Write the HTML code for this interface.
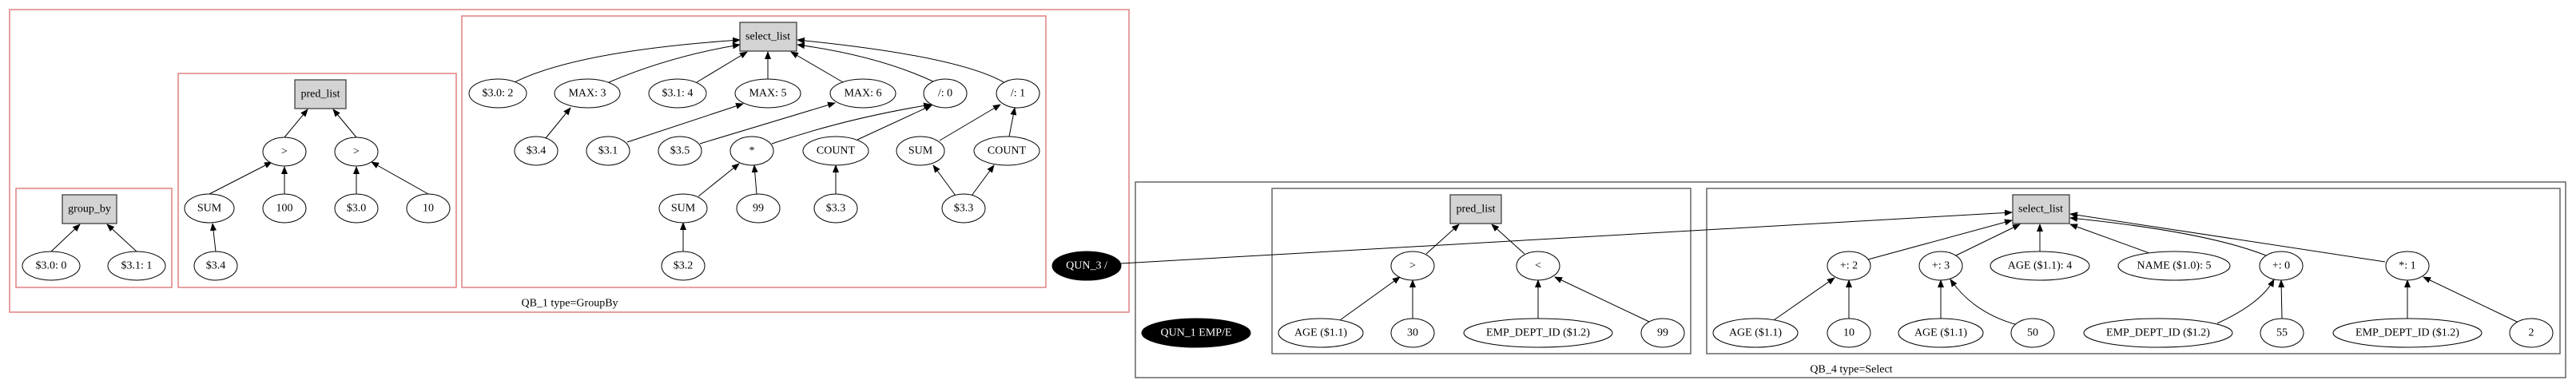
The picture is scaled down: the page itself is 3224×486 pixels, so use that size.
<!DOCTYPE html>
<html><head><meta charset="utf-8"><style>
html,body{margin:0;padding:0;background:#fff;}
svg{display:block;}
text{font-family:"Liberation Serif",serif;font-size:14px;text-anchor:middle;dominant-baseline:central;fill:#000;}
.e{fill:#fff;stroke:#000;stroke-width:1;}
.b{fill:#d3d3d3;stroke:#333;stroke-width:1.2;}
.k{fill:#000;stroke:#000;}
.r{fill:none;stroke:#e08080;stroke-width:1.5;}
.g{fill:none;stroke:#666;stroke-width:1.5;}
.l{fill:none;stroke:#000;stroke-width:1;marker-end:url(#a);}
</style></head><body>
<svg width="3224" height="486" viewBox="0 0 3224 486" xmlns="http://www.w3.org/2000/svg">
<defs><marker id="a" markerWidth="10" markerHeight="8" refX="9" refY="4" orient="auto" markerUnits="userSpaceOnUse"><path d="M0,0 L10,4 L0,8 z" fill="#000"/></marker></defs>
<!-- clusters -->
<rect class="r" x="12" y="12" width="1401" height="379"/>
<rect class="r" x="20" y="236" width="195" height="124"/>
<rect class="r" x="223" y="92" width="348" height="268"/>
<rect class="r" x="578" y="20" width="731" height="340"/>
<text x="713" y="380">QB_1 type=GroupBy</text>
<rect class="g" x="1421" y="228" width="1790" height="245"/>
<rect class="g" x="1592" y="236" width="524" height="207"/>
<rect class="g" x="2136" y="236" width="1068" height="207"/>
<text x="2317" y="463">QB_4 type=Select</text>

<!-- edges -->
<g>
<line class="l" x1="64" y1="315" x2="100" y2="281"/>
<line class="l" x1="171" y1="315" x2="134" y2="281"/>
<line class="l" x1="356" y1="172" x2="385" y2="137"/>
<line class="l" x1="446" y1="172" x2="417" y2="137"/>
<line class="l" x1="262" y1="243" x2="340" y2="203"/>
<line class="l" x1="356" y1="243" x2="356" y2="209"/>
<line class="l" x1="446" y1="243" x2="446" y2="209"/>
<line class="l" x1="536" y1="243" x2="465" y2="203"/>
<line class="l" x1="270" y1="315" x2="266" y2="280"/>
<path class="l" d="M642,104 Q720,64 926,50"/>
<path class="l" d="M762,103 Q840,70 926,56"/>
<line class="l" x1="872" y1="103" x2="935" y2="65"/>
<line class="l" x1="961" y1="99" x2="961" y2="65"/>
<line class="l" x1="1055" y1="103" x2="990" y2="65"/>
<path class="l" d="M1170,103 Q1100,70 998,56"/>
<path class="l" d="M1258,104 Q1200,70 998,50"/>
<line class="l" x1="683" y1="173" x2="714" y2="135"/>
<line class="l" x1="785" y1="178" x2="930" y2="130"/>
<line class="l" x1="876" y1="180" x2="1045" y2="129"/>
<path class="l" d="M966,180 Q1060,148 1165,131"/>
<line class="l" x1="1073" y1="175" x2="1166" y2="132"/>
<line class="l" x1="1176" y1="176" x2="1252" y2="131"/>
<line class="l" x1="1263" y1="171" x2="1270" y2="135"/>
<line class="l" x1="874" y1="246" x2="925" y2="205"/>
<line class="l" x1="947" y1="243" x2="944" y2="207"/>
<line class="l" x1="1046" y1="243" x2="1046" y2="207"/>
<line class="l" x1="1196" y1="245" x2="1168" y2="207"/>
<line class="l" x1="1216" y1="245" x2="1244" y2="207"/>
<line class="l" x1="855" y1="315" x2="855" y2="279"/>

<line class="l" x1="1785" y1="318" x2="1826" y2="281"/>
<line class="l" x1="1908" y1="318" x2="1867" y2="281"/>
<line class="l" x1="1677" y1="401" x2="1752" y2="347"/>
<line class="l" x1="1768" y1="399" x2="1768" y2="351"/>
<line class="l" x1="1925" y1="399" x2="1925" y2="351"/>
<line class="l" x1="2064" y1="403" x2="1946" y2="347"/>
<line class="l" x1="1403" y1="330" x2="2518" y2="266"/>
<line class="l" x1="2338" y1="325" x2="2518" y2="276"/>
<line class="l" x1="2448" y1="320" x2="2528" y2="281"/>
<line class="l" x1="2553" y1="315" x2="2553" y2="281"/>
<line class="l" x1="2690" y1="317" x2="2591" y2="281"/>
<path class="l" d="M2836,320 Q2760,290 2591,273"/>
<line class="l" x1="2985" y1="328" x2="2591" y2="268"/>
<line class="l" x1="2220" y1="401" x2="2296" y2="348"/>
<line class="l" x1="2314" y1="399" x2="2314" y2="351"/>
<line class="l" x1="2429" y1="399" x2="2429" y2="351"/>
<path class="l" d="M2525,407 Q2470,392 2441,350"/>
<path class="l" d="M2775,405 Q2830,380 2846,350"/>
<line class="l" x1="2856" y1="399" x2="2855" y2="351"/>
<line class="l" x1="3013" y1="399" x2="3013" y2="351"/>
<line class="l" x1="3152" y1="404" x2="3033" y2="347"/>
</g>

<!-- nodes QB_1 -->
<rect class="b" x="78" y="244" width="68" height="36"/><text x="112" y="262">group_by</text>
<ellipse class="e" cx="64" cy="333" rx="36" ry="18"/><text x="64" y="333">$3.0: 0</text>
<ellipse class="e" cx="171" cy="333" rx="36" ry="18"/><text x="171" y="333">$3.1: 1</text>

<rect class="b" x="369" y="100" width="64" height="36"/><text x="401" y="118">pred_list</text>
<ellipse class="e" cx="356" cy="190" rx="27" ry="18"/><text x="356" y="190">&gt;</text>
<ellipse class="e" cx="446" cy="190" rx="27" ry="18"/><text x="446" y="190">&gt;</text>
<ellipse class="e" cx="262" cy="261" rx="31" ry="18"/><text x="262" y="261">SUM</text>
<ellipse class="e" cx="356" cy="261" rx="27" ry="18"/><text x="356" y="261">100</text>
<ellipse class="e" cx="446" cy="261" rx="27" ry="18"/><text x="446" y="261">$3.0</text>
<ellipse class="e" cx="536" cy="261" rx="27" ry="18"/><text x="536" y="261">10</text>
<ellipse class="e" cx="270" cy="333" rx="27" ry="18"/><text x="270" y="333">$3.4</text>

<rect class="b" x="926" y="28" width="71" height="36"/><text x="961" y="46">select_list</text>
<ellipse class="e" cx="623" cy="117" rx="36" ry="18"/><text x="623" y="117">$3.0: 2</text>
<ellipse class="e" cx="735" cy="117" rx="41" ry="18"/><text x="735" y="117">MAX: 3</text>
<ellipse class="e" cx="848" cy="117" rx="36" ry="18"/><text x="848" y="117">$3.1: 4</text>
<ellipse class="e" cx="961" cy="117" rx="41" ry="18"/><text x="961" y="117">MAX: 5</text>
<ellipse class="e" cx="1080" cy="117" rx="41" ry="18"/><text x="1080" y="117">MAX: 6</text>
<ellipse class="e" cx="1183" cy="117" rx="27" ry="18"/><text x="1183" y="117">/: 0</text>
<ellipse class="e" cx="1274" cy="117" rx="27" ry="18"/><text x="1274" y="117">/: 1</text>
<ellipse class="e" cx="671" cy="189" rx="27" ry="18"/><text x="671" y="189">$3.4</text>
<ellipse class="e" cx="761" cy="189" rx="27" ry="18"/><text x="761" y="189">$3.1</text>
<ellipse class="e" cx="851" cy="189" rx="27" ry="18"/><text x="851" y="189">$3.5</text>
<ellipse class="e" cx="941" cy="189" rx="27" ry="18"/><text x="941" y="189">*</text>
<ellipse class="e" cx="1046" cy="189" rx="41" ry="18"/><text x="1046" y="189">COUNT</text>
<ellipse class="e" cx="1152" cy="189" rx="30" ry="18"/><text x="1152" y="189">SUM</text>
<ellipse class="e" cx="1260" cy="189" rx="41" ry="18"/><text x="1260" y="189">COUNT</text>
<ellipse class="e" cx="855" cy="261" rx="30" ry="18"/><text x="855" y="261">SUM</text>
<ellipse class="e" cx="949" cy="261" rx="27" ry="18"/><text x="949" y="261">99</text>
<ellipse class="e" cx="1046" cy="261" rx="27" ry="18"/><text x="1046" y="261">$3.3</text>
<ellipse class="e" cx="1206" cy="261" rx="27" ry="18"/><text x="1206" y="261">$3.3</text>
<ellipse class="e" cx="855" cy="333" rx="27" ry="18"/><text x="855" y="333">$3.2</text>

<!-- QB_4 -->
<ellipse class="k" cx="1360" cy="333" rx="43" ry="18"/><text x="1360" y="333" style="fill:#fff">QUN_3 /</text>
<ellipse class="k" cx="1497" cy="417" rx="68" ry="18"/><text x="1497" y="417" style="fill:#fff">QUN_1 EMP/E</text>

<rect class="b" x="1815" y="244" width="64" height="36"/><text x="1847" y="262">pred_list</text>
<ellipse class="e" cx="1768" cy="333" rx="27" ry="18"/><text x="1768" y="333">&gt;</text>
<ellipse class="e" cx="1925" cy="333" rx="27" ry="18"/><text x="1925" y="333">&lt;</text>
<ellipse class="e" cx="1653" cy="417" rx="53" ry="18"/><text x="1653" y="417">AGE ($1.1)</text>
<ellipse class="e" cx="1768" cy="417" rx="27" ry="18"/><text x="1768" y="417">30</text>
<ellipse class="e" cx="1925" cy="417" rx="93" ry="18"/><text x="1925" y="417">EMP_DEPT_ID ($1.2)</text>
<ellipse class="e" cx="2081" cy="417" rx="27" ry="18"/><text x="2081" y="417">99</text>

<rect class="b" x="2519" y="244" width="71" height="36"/><text x="2554" y="262">select_list</text>
<ellipse class="e" cx="2314" cy="333" rx="27" ry="18"/><text x="2314" y="333">+: 2</text>
<ellipse class="e" cx="2429" cy="333" rx="27" ry="18"/><text x="2429" y="333">+: 3</text>
<ellipse class="e" cx="2553" cy="333" rx="62" ry="18"/><text x="2553" y="333">AGE ($1.1): 4</text>
<ellipse class="e" cx="2721" cy="333" rx="70" ry="18"/><text x="2721" y="333">NAME ($1.0): 5</text>
<ellipse class="e" cx="2855" cy="333" rx="27" ry="18"/><text x="2855" y="333">+: 0</text>
<ellipse class="e" cx="3013" cy="333" rx="27" ry="18"/><text x="3013" y="333">*: 1</text>
<ellipse class="e" cx="2197" cy="417" rx="53" ry="18"/><text x="2197" y="417">AGE ($1.1)</text>
<ellipse class="e" cx="2314" cy="417" rx="27" ry="18"/><text x="2314" y="417">10</text>
<ellipse class="e" cx="2429" cy="417" rx="53" ry="18"/><text x="2429" y="417">AGE ($1.1)</text>
<ellipse class="e" cx="2544" cy="417" rx="27" ry="18"/><text x="2544" y="417">50</text>
<ellipse class="e" cx="2701" cy="417" rx="93" ry="18"/><text x="2701" y="417">EMP_DEPT_ID ($1.2)</text>
<ellipse class="e" cx="2856" cy="417" rx="27" ry="18"/><text x="2856" y="417">55</text>
<ellipse class="e" cx="3013" cy="417" rx="93" ry="18"/><text x="3013" y="417">EMP_DEPT_ID ($1.2)</text>
<ellipse class="e" cx="3168" cy="417" rx="27" ry="18"/><text x="3168" y="417">2</text>
</svg>
</body></html>
